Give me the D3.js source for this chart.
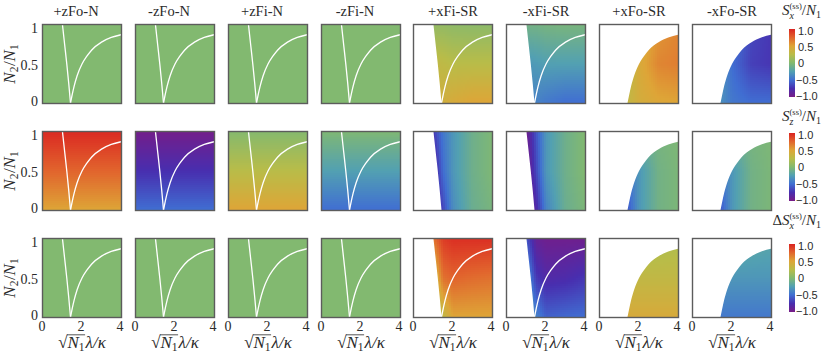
<!DOCTYPE html>
<html>
<head>
<meta charset="utf-8">
<script src="https://cdn.jsdelivr.net/npm/d3@7"></script>
<style>
  body { margin: 0; background: #fff; }
  svg { display: block; }
</style>
</head>
<body>
<script>
// column titles and what part of the plane each column fills
const columns = ["+zFo-N", "-zFo-N", "+zFi-N", "-zFi-N", "+xFi-SR", "-xFi-SR", "+xFo-SR", "-xFo-SR"];
const regionKind = ["full", "full", "full", "full", "in", "in", "out", "out"];

const xTicks = [0, 2, 4];
const yTicks = [0, 0.5, 1];
const yTickLabels = ["0", "0.5", "1"];
const barTicks = [1, 0.5, 0, -0.5, -1];
const barTickLabels = ["1.0", "0.5", "0", "\u22120.5", "\u22121.0"];

// the two white boundary lines
const leftLineX = [1.0, 1.11, 1.22, 1.32, 1.41];
const leftLineY = [1, 0.75, 0.5, 0.25, 0];
const rightCurveX = [1.41, 1.5, 1.6, 1.75, 2, 2.25, 2.5, 3, 3.5, 4];
const rightCurveY = [0, 0.11, 0.22, 0.35, 0.5, 0.6, 0.68, 0.78, 0.84, 0.875];

// colour map (colour bar)
const cmapValues = [-1, -0.75, -0.5, -0.25, 0, 0.25, 0.5, 0.75, 1];
const cmapColors = ["#781c86", "#482eaf", "#406ed2", "#52a0b2", "#82b970",
                    "#b9bc48", "#dea537", "#e1642d", "#da2321"];

// estimated field values at grid nodes, rows are y = 1, 0.5, 0 ; columns x = gridX
const gridX = [1, 1.5, 2, 3, 4];
const gridY = [1, 0.5, 0];

const sxValues = [
  0, 0, 0, 0,
  [[0.08, 0.08, 0.06, 0.05, 0.05], [0.3, 0.28, 0.25, 0.25, 0.25], [0.38, 0.4, 0.45, 0.5, 0.5]],
  [[-0.08, -0.08, -0.06, -0.05, -0.05], [-0.3, -0.28, -0.25, -0.25, -0.25], [-0.38, -0.4, -0.45, -0.5, -0.5]],
  [[0.3, 0.3, 0.4, 0.55, 0.62], [0.25, 0.28, 0.45, 0.62, 0.65], [0.3, 0.33, 0.42, 0.48, 0.5]],
  [[-0.3, -0.3, -0.45, -0.65, -0.72], [-0.3, -0.32, -0.5, -0.68, -0.72], [-0.3, -0.35, -0.45, -0.5, -0.5]]
];
const szValues = [
  [0.97, 0.75, 0.5],
  [-0.97, -0.75, -0.5],
  [0.02, 0.25, 0.5],
  [-0.02, -0.25, -0.5],
  [[-0.7, -0.45, -0.3, -0.1, -0.02], [-0.85, -0.5, -0.3, -0.1, -0.02], [-0.85, -0.65, -0.35, -0.12, -0.05]],
  [[-0.95, -0.6, -0.3, -0.1, 0], [-1, -0.65, -0.3, -0.1, 0], [-1, -0.8, -0.4, -0.12, -0.03]],
  [[-0.2, -0.15, -0.1, -0.05, -0.02], [-0.5, -0.45, -0.3, -0.08, -0.03], [-0.6, -0.55, -0.3, -0.08, -0.03]],
  [[-0.2, -0.15, -0.1, -0.05, -0.02], [-0.5, -0.45, -0.3, -0.08, -0.03], [-0.6, -0.55, -0.3, -0.08, -0.03]]
];
const dsxValues = [
  0, 0, 0, 0,
  [[0.7, 0.9, 0.95, 0.95, 0.95], [0.3, 0.7, 0.75, 0.72, 0.7], [0.1, 0.3, 0.5, 0.5, 0.5]],
  [[-0.6, -0.9, -0.95, -0.95, -0.95], [-0.3, -0.7, -0.8, -0.78, -0.72], [-0.2, -0.4, -0.55, -0.52, -0.5]],
  [[0.15, 0.15, 0.15, 0.18, 0.2], [0.3, 0.3, 0.3, 0.3, 0.3], [0.45, 0.45, 0.45, 0.45, 0.45]],
  [[-0.15, -0.15, -0.15, -0.18, -0.2], [-0.3, -0.3, -0.3, -0.3, -0.3], [-0.45, -0.45, -0.45, -0.45, -0.45]]
];
const rowValues = [sxValues, szValues, dsxValues];
const rowSub = ["x", "z", "x"];
const rowPrefix = ["", "", "\u0394"];

// which white lines are drawn, [row][column]
const showLeft = [
  [true, true, true, true, false, false, false, false],
  [true, true, true, true, false, false, false, false],
  [true, true, true, true, false, false, false, false]
];
const showRight = [
  [true, true, true, true, true, true, false, false],
  [true, true, true, true, false, false, false, false],
  [true, true, true, true, true, true, false, false]
];

// layout
const W = 822, H = 358;
const panelW = 80, panelH = 80;
const colLeft = columns.map((c, i) => Math.round(42 + i * 92.86));
const rowTop = [24, 131, 238];
const barX = 789, barW = 6, barH = 68;
const barTop = [29, 133, 244];
const serif = "'Liberation Serif', 'Times New Roman', serif";
const sans = "'Liberation Sans', Arial, sans-serif";
const ink = "#2a2a2a";

const color = d3.scaleLinear().domain(cmapValues).range(cmapColors).clamp(true);

const svg = d3.select("body").append("svg").attr("width", W).attr("height", H);
const defs = svg.append("defs");

function makeField(panel) {
  const rows = (typeof panel === "number" ? [panel, panel, panel] : panel)
    .map(r => Array.isArray(r) ? r : gridX.map(() => r));
  const rowScales = rows.map(r => d3.scaleLinear().domain(gridX).range(r).clamp(true));
  return (x, y) => d3.scaleLinear().domain(gridY).range(rowScales.map(s => s(x))).clamp(true)(y);
}

// one text element built from tspans (sub/superscripts, stacked pieces)
function mathText(g, pieces, anchor) {
  const t = g.append("text").style("font-family", serif).attr("fill", ink);
  let cx = 0, curDy = 0, prevStart = 0, prevW = 0, pendingDx = 0;
  pieces.forEach(p => {
    const ts = t.append("tspan")
      .style("font-size", p.size + "px")
      .style("font-style", p.italic ? "italic" : "normal")
      .text(p.t);
    const dy = (p.dy || 0) - curDy;
    if (dy) ts.attr("dy", dy);
    curDy = p.dy || 0;
    const w = ts.node().getComputedTextLength();
    if (p.stack) {
      ts.attr("dx", -prevW);
      p.x = prevStart;
      pendingDx = Math.max(0, prevW - w);
      cx = prevStart + Math.max(prevW, w);
    } else {
      const gap = pendingDx + (p.gap || 0);
      if (gap) ts.attr("dx", gap);
      pendingDx = 0;
      cx += p.gap || 0;
      p.x = cx; prevStart = cx; prevW = w;
      cx += w;
    }
    p.w = w;
  });
  const shift = anchor === "end" ? -cx : anchor === "middle" ? -cx / 2 : 0;
  t.attr("x", shift);
  pieces.forEach(p => { p.x += shift; });
  return { text: t, pieces: pieces, width: cx };
}

let clipId = 0;
rowValues.forEach((vals, r) => {
  columns.forEach((name, c) => {
    const x0 = colLeft[c], y0 = rowTop[r];
    const xs = d3.scaleLinear().domain([0, 4]).range([x0 + 1, x0 + panelW - 1]);
    const ys = d3.scaleLinear().domain([0, 1]).range([y0 + panelH - 1, y0 + 1]);
    const g = svg.append("g");

    // region clip
    const id = "clip" + (clipId++);
    const cp = defs.append("clipPath").attr("id", id);
    const lineGen = d3.line().x(d => xs(d[0])).y(d => ys(d[1]));
    if (regionKind[c] === "full") {
      cp.append("rect").attr("x", x0 + 1).attr("y", y0 + 1).attr("width", panelW - 2).attr("height", panelH - 2);
    } else if (regionKind[c] === "in") {
      const pts = leftLineX.map((v, i) => [v, leftLineY[i]]).concat([[4, 0], [4, 1]]);
      cp.append("path").attr("d", lineGen(pts) + "Z");
    } else {
      const pts = rightCurveX.map((v, i) => [v, rightCurveY[i]]);
      const d = lineGen.curve(d3.curveMonotoneX)(pts) + `L${xs(4)},${ys(0)}Z`;
      cp.append("path").attr("d", d);
    }

    const field = makeField(vals[c]);
    const cg = g.append("g").attr("clip-path", `url(#${id})`).attr("shape-rendering", "crispEdges");
    if (typeof vals[c] === "number") {
      cg.append("rect").attr("x", x0).attr("y", y0).attr("width", panelW).attr("height", panelH)
        .attr("fill", color(vals[c]));
    } else {
      const step = 2, cells = [];
      for (let px = 0; px < panelW; px += step)
        for (let py = 0; py < panelH; py += step) cells.push([px, py]);
      cg.selectAll("rect").data(cells).join("rect")
        .attr("x", d => x0 + d[0]).attr("y", d => y0 + d[1])
        .attr("width", step).attr("height", step)
        .attr("fill", d => color(field(xs.invert(x0 + d[0] + step / 2), ys.invert(y0 + d[1] + step / 2))));
    }

    // white lines
    const curveLine = d3.line().x(d => xs(d[0])).y(d => ys(d[1])).curve(d3.curveMonotoneX);
    if (showLeft[r][c]) {
      g.append("path").attr("d", curveLine(leftLineX.map((v, i) => [v, leftLineY[i]])))
        .attr("fill", "none").attr("stroke", "#fff").attr("stroke-width", 1.3);
    }
    if (showRight[r][c]) {
      g.append("path").attr("d", curveLine(rightCurveX.map((v, i) => [v, rightCurveY[i]])))
        .attr("fill", "none").attr("stroke", "#fff").attr("stroke-width", 1.3);
    }

    // frame
    g.append("rect").attr("x", x0 + 0.5).attr("y", y0 + 0.5).attr("width", panelW - 1).attr("height", panelH - 1)
      .attr("fill", "none").attr("stroke", "#5c5c5c").attr("stroke-width", 1.4);

    // y tick labels and axis label on first column
    if (c === 0) {
      const yl = d3.scaleLinear().domain([0, 1]).range([y0 + panelH - 2.5, y0 + 4]);
      g.selectAll("text.yt").data(yTicks).join("text")
        .attr("x", x0 - 4).attr("y", d => yl(d)).attr("dy", "0.35em")
        .attr("text-anchor", "end").style("font-family", serif).style("font-size", "14px")
        .attr("fill", ink).text((d, i) => yTickLabels[i]);
      const lg = g.append("g").attr("transform", `translate(15,${y0 + panelH / 2}) rotate(-90)`);
      mathText(lg, [
        { t: "N", size: 17, italic: true }, { t: "2", size: 11.5, dy: 3 },
        { t: "/", size: 17, gap: 0.5 }, { t: "N", size: 17, italic: true }, { t: "1", size: 11.5, dy: 3 }
      ], "middle");
    }

    // x tick labels and axis label on last row
    if (r === 2) {
      const xl = d3.scaleLinear().domain([0, 4]).range([x0, x0 + panelW - 2]);
      g.selectAll("text.xt").data(xTicks).join("text")
        .attr("x", d => xl(d)).attr("y", y0 + panelH + 13)
        .attr("text-anchor", "middle").style("font-family", serif).style("font-size", "14px")
        .attr("fill", ink).text(d => d);
      const lg = g.append("g").attr("transform", `translate(${x0 + panelW / 2},${y0 + panelH + 30})`);
      const lab = mathText(lg, [
        { t: "\u221A", size: 17 }, { t: "N", size: 17, italic: true }, { t: "1", size: 11.5, dy: 3 },
        { t: "\u03BB/\u03BA", size: 17, italic: true, gap: 1 }
      ], "middle");
      const p = lab.pieces;
      lg.append("line").attr("x1", p[1].x - 0.5).attr("x2", p[2].x + p[2].w + 0.5)
        .attr("y1", -13.2).attr("y2", -13.2).attr("stroke", ink).attr("stroke-width", 0.8);
    }

    // column titles
    if (r === 0) {
      g.append("text").attr("x", x0 + panelW / 2 + (c < 4 ? -6 : 0)).attr("y", 16)
        .attr("text-anchor", "middle").style("font-family", serif).style("font-size", "14.5px")
        .attr("fill", ink).text(name);
    }
  });

  // colour bar
  const gid = "grad" + r;
  const grad = defs.append("linearGradient").attr("id", gid)
    .attr("x1", 0).attr("y1", 1).attr("x2", 0).attr("y2", 0);
  grad.selectAll("stop").data(cmapValues).join("stop")
    .attr("offset", d => (d + 1) / 2).attr("stop-color", (d, i) => cmapColors[i]);
  svg.append("rect").attr("x", barX).attr("y", barTop[r]).attr("width", barW).attr("height", barH)
    .attr("fill", `url(#${gid})`);
  const bs = d3.scaleLinear().domain([-1, 1]).range([barTop[r] + barH - 1, barTop[r] + 2]);
  svg.selectAll("text.bt" + r).data(barTicks).join("text")
    .attr("x", d => d < 0 ? 796 : 798).attr("y", d => bs(d)).attr("dy", "0.35em")
    .style("font-family", sans).style("font-size", "11px").attr("fill", ink)
    .text((d, i) => barTickLabels[i]);

  // colour bar title
  const pieces = [];
  if (rowPrefix[r]) pieces.push({ t: rowPrefix[r], size: 15 });
  pieces.push({ t: "S", size: 15, italic: true }, { t: rowSub[r], size: 10, italic: true, dy: 4 },
    { t: "(ss)", size: 8.5, dy: -6, stack: true }, { t: "/", size: 15 },
    { t: "N", size: 15, italic: true }, { t: "1", size: 10, dy: 3 });
  const tg = svg.append("g").attr("transform", `translate(821,${[15, 121, 225][r]})`);
  mathText(tg, pieces, "end");
});
</script>
</body>
</html>
